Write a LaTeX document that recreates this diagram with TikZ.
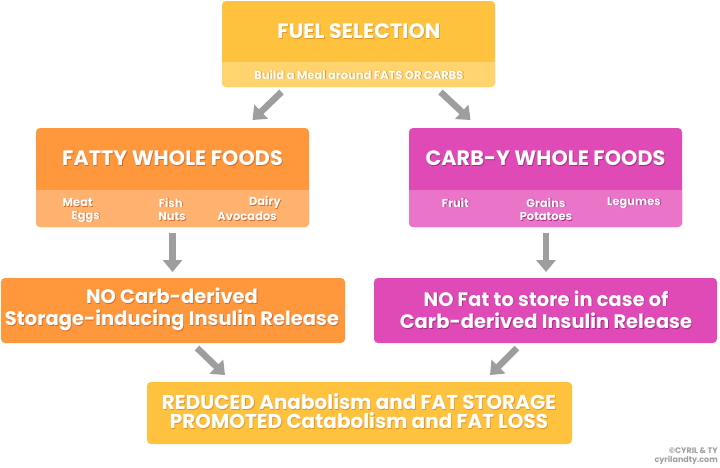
\documentclass[tikz,border=0pt]{standalone}
\usepackage{fontspec}
\setmainfont{Poppins}[BoldFont={Poppins Bold}]
\usetikzlibrary{arrows.meta,calc}
\definecolor{yelD}{RGB}{255,194,62}
\definecolor{yelL}{RGB}{255,212,110}
\definecolor{yelS}{RGB}{222,150,40}
\definecolor{orD}{RGB}{255,152,60}
\definecolor{orL}{RGB}{255,178,112}
\definecolor{orS}{RGB}{215,105,35}
\definecolor{mgD}{RGB}{224,74,182}
\definecolor{mgL}{RGB}{234,116,200}
\definecolor{mgS}{RGB}{165,40,135}
\definecolor{arrg}{RGB}{158,158,158}
\newcommand\sht[2]{{\rlap{\kern0.8pt\raisebox{-0.8pt}{\color{#1}#2}}#2}}
\tikzset{
  boxn/.style={inner sep=0pt, outer sep=0pt},
  ttl/.style={text=white, font=\bfseries\fontsize{20.8}{24}\selectfont, inner sep=0pt},
  sub/.style={text=white, font=\bfseries\fontsize{11.5}{13}\selectfont, inner sep=0pt, align=center},
  big/.style={text=white, font=\bfseries\fontsize{19.5}{22.5}\selectfont, inner sep=0pt, align=center},
  garrow/.style={draw=arrg, line width=6.5pt, -{Triangle[width=19pt,length=12pt]}},
}
% \bandbox{name}{x1}{y1}{x2}{ymid}{y2}{dark}{light}
\newcommand\bandbox[8]{%
  \fill[#7, rounded corners=4pt] (#2,#3) rectangle (#4,#6);
  \fill[#8, rounded corners=4pt] (#2,#5) rectangle (#4,#6);
  \fill[#8] (#2,#5) rectangle (#4,#5+6);
  \node[boxn, minimum width={#4-#2}, minimum height={#6-#3}] (#1) at ({(#2+#4)/2},{(#3+#6)/2}) {};
}
\newcommand\plainbox[6]{%
  \fill[#6, rounded corners=4pt] (#2,#3) rectangle (#4,#5);
  \node[boxn, minimum width={#4-#2}, minimum height={#5-#3}] (#1) at ({(#2+#4)/2},{(#3+#5)/2}) {};
}
\begin{document}
\begin{tikzpicture}[x=1pt,y=-1pt]
\useasboundingbox (0,0) rectangle (720,467);
\fill[white] (0,0) rectangle (720,467);

\bandbox{fuel}{222}{1}{495}{62}{87}{yelD}{yelL}
\bandbox{fatty}{36}{128}{309}{190}{227}{orD}{orL}
\bandbox{carb}{409}{128}{682}{190}{227}{mgD}{mgL}
\plainbox{nocarb}{1}{278}{345}{343}{orD}
\plainbox{nofat}{374}{278}{717}{343}{mgD}
\plainbox{result}{147}{382}{572}{444}{yelD}

% titles
\node[ttl] (fuelt) at (359,32) {\sht{yelS}{FUEL SELECTION}};
\node[sub] (fuels) at (359,75) {\sht{yelS}{Build a Meal around FATS OR CARBS}};
\node[ttl] (fattyt) at (172.5,159) {\sht{orS}{FATTY WHOLE FOODS}};
\node[ttl] (carbt) at (545.5,159) {\sht{mgS}{CARB-Y WHOLE FOODS}};

% fatty items
\node[sub, anchor=east] (meat) at (93,203) {\sht{orS}{Meat}};
\node[sub, anchor=east] (eggs) at (100,217) {\sht{orS}{Eggs}};
\node[sub, anchor=east] (fish) at (183,203) {\sht{orS}{Fish}};
\node[sub, anchor=east] (nuts) at (186,217) {\sht{orS}{Nuts}};
\node[sub, anchor=east] (dairy) at (281,203) {\sht{orS}{Dairy}};
\node[sub, anchor=east] (avoc) at (277,217) {\sht{orS}{Avocados}};
% carb items
\node[sub] (fruit) at (455.5,203) {\sht{mgS}{Fruit}};
\node[sub] (grains) at (546,203) {\sht{mgS}{Grains}};
\node[sub] (potat) at (546,217) {\sht{mgS}{Potatoes}};
\node[sub] (legum) at (634,203) {\sht{mgS}{Legumes}};

% middle texts
\node[big] at (172,310) {\sht{orS}{NO Carb-derived}\\\sht{orS}{Storage-inducing Insulin Release}};
\node[big] at (546,310) {\sht{mgS}{NO Fat to store in case of}\\\sht{mgS}{Carb-derived Insulin Release}};
\node[big, font=\bfseries\fontsize{20}{19.5}\selectfont] at (359,411.5) {\sht{yelS}{REDUCED Anabolism and FAT STORAGE}\\\sht{yelS}{PROMOTED Catabolism and FAT LOSS}};

% credit
\node[inner sep=0pt, anchor=east, text=arrg, font=\bfseries\fontsize{8}{9.5}\selectfont, align=right] (credit) at (718,456) {©CYRIL \& TY\\cyrilandty.com};

% arrows
\draw[garrow] ($(fuel.south)+(-77,5)$) -- ($(fatty.north)+(80,-8)$);
\draw[garrow] ($(fuel.south)+(82,5)$) -- ($(carb.north)+(-75,-8)$);
\draw[garrow] ($(fatty.south)+(0,6)$) -- ($(nocarb.north)+(-0.5,-6)$);
\draw[garrow] ($(carb.south)+(0.5,6)$) -- ($(nofat.north)+(0.5,-6)$);
\draw[garrow] ($(nocarb.south)+(24,5)$) -- ($(result.north)+(-134.5,-7)$);
\draw[garrow] ($(nofat.south)+(-28.5,5)$) -- ($(result.north)+(130.5,-7)$);
\end{tikzpicture}
\end{document}
